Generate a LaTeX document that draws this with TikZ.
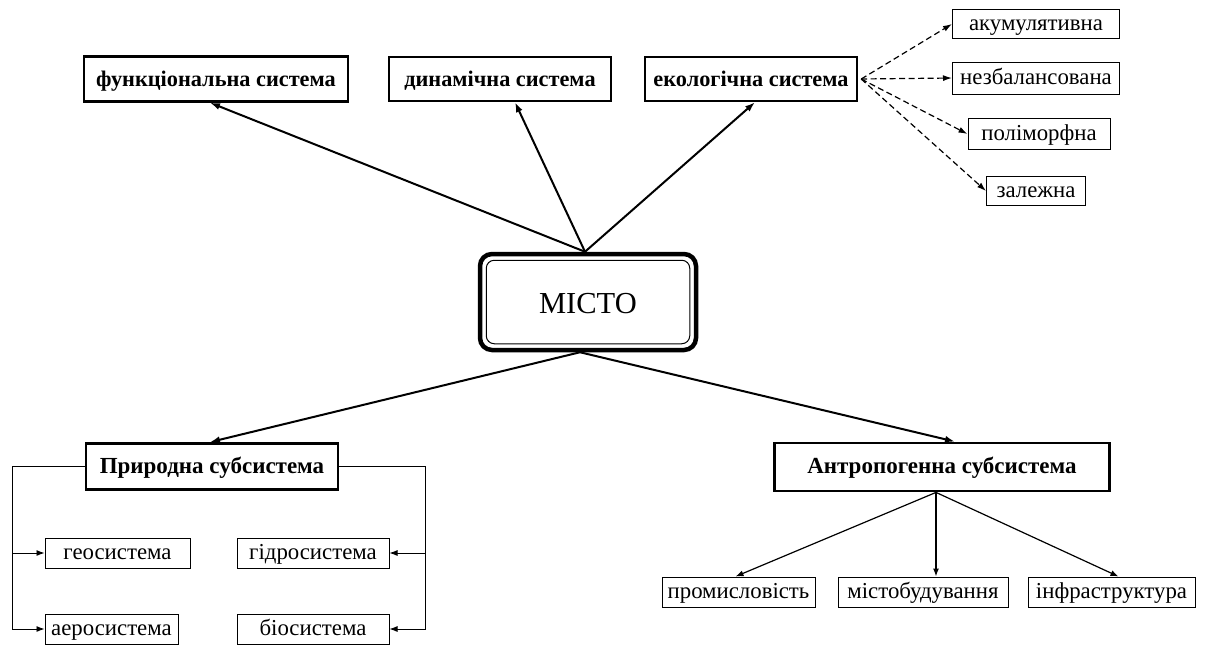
\documentclass[tikz,border=0pt]{standalone}
\usepackage{fontspec}
\setmainfont{Liberation Serif}
\usetikzlibrary{arrows.meta,calc}
\begin{document}
\begin{tikzpicture}[x=1pt,y=-1pt,
  topbox/.style={draw,line width=2.4pt,inner sep=0pt,text height=17pt,text depth=3pt,font=\fontsize{22.3}{25}\selectfont\bfseries},
  subbox/.style={draw,line width=2.8pt,inner sep=0pt,text height=16.5pt,text depth=3.5pt,font=\fontsize{23}{26}\selectfont\bfseries},
  leaf/.style={draw,line width=1pt,inner sep=0pt,text height=17pt,text depth=4pt,font=\fontsize{22.8}{26}\selectfont},
  main/.style={-{Latex[length=10pt,width=7pt]},line width=2pt},
  thinarrow/.style={-{Latex[length=8pt,width=6pt]},line width=1.2pt},
  bracket/.style={-{Latex[length=8pt,width=6pt]},line width=0.9pt},
  dasharrow/.style={-{Latex[length=9pt,width=6pt]},line width=1.2pt,dash pattern=on 6pt off 3.5pt}]
\useasboundingbox (0,0) rectangle (1207,646);
% centre
\node[draw,line width=4.5pt,rounded corners=12pt,minimum width=216pt,minimum height=96pt,inner sep=0pt,text height=22pt,text depth=0pt,font=\fontsize{30.5}{34}\selectfont] (m) at (588,302) {МІСТО};
\draw[line width=1pt,rounded corners=8pt] ($(m.north west)+(8.5,8.5)$) rectangle ($(m.south east)+(-8.5,-8.5)$);
% top boxes
\node[topbox,minimum width=264pt,minimum height=45pt] (f) at (216,79) {функціональна система};
\node[topbox,minimum width=222pt,minimum height=44pt] (d) at (500,79) {динамічна система};
\node[topbox,minimum width=212pt,minimum height=44pt] (e) at (751,79) {екологічна система};
% right leaves
\node[leaf,minimum width=167pt,minimum height=29pt] (a1) at (1036,24) {акумулятивна};
\node[leaf,minimum width=167pt,minimum height=32pt] (a2) at (1036,78) {незбалансована};
\node[leaf,minimum width=142pt,minimum height=31pt] (a3) at (1039,134) {поліморфна};
\node[leaf,minimum width=99pt,minimum height=29pt] (a4) at (1036,191) {залежна};
\coordinate (eo) at ($(e.east)+(3,0)$);
\foreach \nn in {a1,a2,a3,a4} \draw[dasharrow] (eo) -- (\nn.west);
% arrows top
\draw[main] ([xshift=-3pt]m.north) -- ([xshift=-6pt]f.south);
\draw[main] ([xshift=-3pt]m.north) -- ([xshift=15pt]d.south);
\draw[main] ([xshift=-3pt]m.north) -- ([xshift=4pt]e.south);
% subsystems
\node[subbox,minimum width=252pt,minimum height=46pt] (p) at (212,466.5) {Природна субсистема};
\node[subbox,minimum width=335pt,minimum height=48pt] (an) at (942,467) {Антропогенна субсистема};
\draw[main] ([xshift=-8pt]m.south) -- ([xshift=-2pt]p.north);
\draw[main] ([xshift=-8pt]m.south) -- ([xshift=13pt]an.north);
% natural leaves
\node[leaf,minimum width=145pt,minimum height=30pt] (g) at (117.5,553) {геосистема};
\node[leaf,minimum width=133pt,minimum height=30pt] (ae) at (111.5,629) {аеросистема};
\node[leaf,minimum width=152pt,minimum height=30pt] (h) at (313,553) {гідросистема};
\node[leaf,minimum width=152pt,minimum height=30pt] (b) at (313,629) {біосистема};
\coordinate (lb) at (12,629);
\coordinate (rb) at (425,629);
\draw[bracket] (p.west) -| (lb) -- (ae.west);
\draw[bracket] (g.west -| lb) -- (g.west);
\draw[bracket] (p.east) -| (rb) -- (b.east);
\draw[bracket] (h.east -| rb) -- (h.east);
% anthropogenic leaves
\node[leaf,minimum width=153pt,minimum height=30pt] (pr) at (738.5,592) {промисловість};
\node[leaf,minimum width=170pt,minimum height=30pt] (mb) at (923,592) {містобудування};
\node[leaf,minimum width=167pt,minimum height=30pt] (in) at (1111.5,592) {інфраструктура};
\draw[thinarrow] ([xshift=-6pt]an.south) -- ([xshift=-3pt]pr.north);
\draw[thinarrow] ([xshift=-6pt]an.south) -- ([xshift=13pt]mb.north);
\draw[thinarrow] ([xshift=-6pt]an.south) -- ([xshift=7pt]in.north);
\end{tikzpicture}
\end{document}
